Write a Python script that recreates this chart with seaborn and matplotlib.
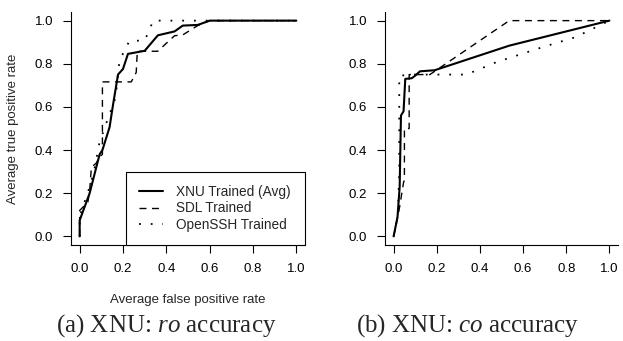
import matplotlib
matplotlib.use("Agg")
import matplotlib.pyplot as plt
import seaborn as sns
import pandas as pd

# ---------------- data ----------------
ticks = [0.0, 0.2, 0.4, 0.6, 0.8, 1.0]
tick_labels = ["0.0", "0.2", "0.4", "0.6", "0.8", "1.0"]
series_names = ["XNU Trained (Avg)", "SDL Trained", "OpenSSH Trained"]

# (a) ro accuracy
xnu_ro_fpr = [0, 0, 0.046, 0.092, 0.105, 0.138, 0.154, 0.177, 0.20, 0.223, 0.30, 0.361, 0.438, 0.476, 0.545, 0.60, 1.0]
xnu_ro_tpr = [0, 0.074, 0.20, 0.38, 0.40, 0.506, 0.61, 0.75, 0.776, 0.846, 0.86, 0.932, 0.95, 0.977, 0.98, 1.0, 1.0]
sdl_ro_fpr = [0, 0, 0.008, 0.038, 0.046, 0.054, 0.077, 0.092, 0.105, 0.105, 0.238, 0.261, 0.266, 0.36, 0.438, 0.476, 0.545, 0.60, 1.0]
sdl_ro_tpr = [0, 0.12, 0.128, 0.16, 0.21, 0.32, 0.34, 0.37, 0.38, 0.716, 0.716, 0.76, 0.858, 0.858, 0.93, 0.934, 0.977, 1.0, 1.0]
ssh_ro_fpr = [0, 0, 0.015, 0.034, 0.066, 0.092, 0.13, 0.161, 0.169, 0.184, 0.23, 0.30, 0.33, 0.338, 1.0]
ssh_ro_tpr = [0, 0.09, 0.14, 0.19, 0.30, 0.437, 0.545, 0.63, 0.676, 0.815, 0.907, 0.907, 0.977, 1.0, 1.0]

# (b) co accuracy
xnu_co_fpr = [0, 0.018, 0.028, 0.034, 0.046, 0.054, 0.084, 0.10, 0.122, 0.19, 0.536, 1.0]
xnu_co_tpr = [0, 0.09, 0.23, 0.56, 0.58, 0.73, 0.733, 0.745, 0.765, 0.77, 0.884, 1.0]
sdl_co_fpr = [0, 0.025, 0.046, 0.05, 0.05, 0.072, 0.072, 0.168, 0.536, 1.0]
sdl_co_tpr = [0, 0.12, 0.25, 0.26, 0.5, 0.5, 0.75, 0.75, 1.0, 1.0]
ssh_co_fpr = [0, 0.02, 0.026, 0.026, 0.10, 0.20, 0.337, 0.475, 0.69, 0.842, 1.0]
ssh_co_tpr = [0, 0.10, 0.30, 0.745, 0.75, 0.75, 0.75, 0.807, 0.877, 0.923, 1.0]

captions = [r"(a) XNU: $ro$ accuracy", r"(b) XNU: $co$ accuracy"]
xlabel = "Average false positive rate"
ylabel = "Average true positive rate"

# ---------------- style ----------------
sns.set_style("ticks")
plt.rcParams["font.family"] = ["Liberation Sans", "DejaVu Sans"]
plt.rcParams["mathtext.fontset"] = "custom"
plt.rcParams["mathtext.it"] = "Liberation Serif:italic"
plt.rcParams["mathtext.rm"] = "Liberation Serif"

styles = {
    "XNU Trained (Avg)": dict(linestyle="-", linewidth=1.5),
    "SDL Trained": dict(linestyle=(0, (5, 4)), linewidth=1.0),
    "OpenSSH Trained": dict(linestyle=(0, (1, 5.5)), linewidth=1.3),
}

fig = plt.figure(figsize=(6.23, 3.41), dpi=100)
ax1 = fig.add_axes([71 / 623, 1 - 245 / 341, 234 / 623, 233 / 341])
ax2 = fig.add_axes([385 / 623, 1 - 245 / 341, 233 / 623, 233 / 341])

panels = [
    (ax1, [(xnu_ro_fpr, xnu_ro_tpr), (sdl_ro_fpr, sdl_ro_tpr), (ssh_ro_fpr, ssh_ro_tpr)]),
    (ax2, [(xnu_co_fpr, xnu_co_tpr), (sdl_co_fpr, sdl_co_tpr), (ssh_co_fpr, ssh_co_tpr)]),
]

for ax, data in panels:
    for name, (fx, ty) in zip(series_names, data):
        df = pd.DataFrame({"fpr": fx, "tpr": ty})
        sns.lineplot(data=df, x="fpr", y="tpr", ax=ax, sort=False, estimator=None,
                     color="black", label=name, **styles[name])
    ax.set_xlim(-0.04, 1.04)
    ax.set_ylim(-0.04, 1.04)
    ax.set_xticks(ticks)
    ax.set_xticklabels(tick_labels)
    ax.set_yticks(ticks)
    ax.set_yticklabels(tick_labels)
    ax.tick_params(direction="out", length=5.8, width=0.8, pad=7, labelsize=9.5, colors="black")
    for s in ["top", "right"]:
        ax.spines[s].set_visible(False)
    for s in ["left", "bottom"]:
        ax.spines[s].set_color("black")
        ax.spines[s].set_linewidth(0.8)
    ax.set_xlabel("")
    ax.set_ylabel("")

ax2.get_legend().remove()
ax1.set_xlabel(xlabel, fontsize=9.5, labelpad=14)
ax1.set_ylabel(ylabel, fontsize=9.5, labelpad=11)

leg = ax1.legend(loc="lower left", bbox_to_anchor=(0.235, 0.0, 0.765, 0.32), mode="expand",
                 borderaxespad=0, fontsize=9.8, frameon=True, fancybox=False,
                 edgecolor="black", framealpha=1, handlelength=1.75, handletextpad=1.0,
                 labelspacing=0.2, borderpad=0.95)
leg.get_frame().set_linewidth(0.8)

fig.text(166 / 623, 1 - 326 / 341, captions[0], ha="center", va="center",
         fontsize=18, family="Liberation Serif")
fig.text(468 / 623, 1 - 326 / 341, captions[1], ha="center", va="center",
         fontsize=18, family="Liberation Serif")

fig.savefig("out.png", dpi=100)
